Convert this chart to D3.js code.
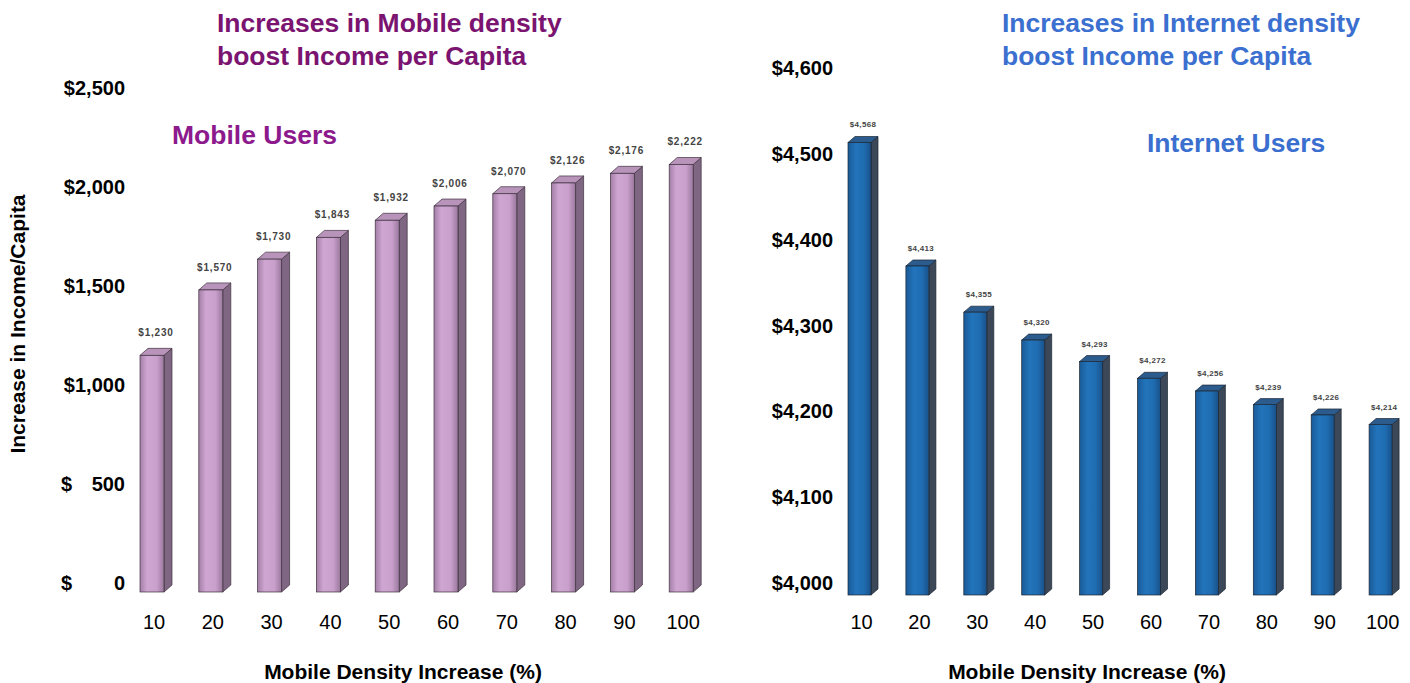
<!DOCTYPE html>
<html>
<head>
<meta charset="utf-8">
<script src="https://cdn.jsdelivr.net/npm/d3@7"></script>
<style>
body{margin:0;background:#fff;}
text{font-family:Arial,"Liberation Sans",sans-serif;}
</style>
</head>
<body>
<script>
// data
var densityCats = ["10","20","30","40","50","60","70","80","90","100"];
var mobileIncome = [1230,1570,1730,1843,1932,2006,2070,2126,2176,2222];
var internetIncome = [4568,4413,4355,4320,4293,4272,4256,4239,4226,4214];
var mobileTicks = [0,500,1000,1500,2000,2500];
var internetTicks = [4000,4100,4200,4300,4400,4500,4600];

var W = 1410, H = 683;
var svg = d3.select("body").append("svg").attr("width",W).attr("height",H);
var defs = svg.append("defs");

function grad(id, stops){
  var g = defs.append("linearGradient").attr("id",id).attr("x1","0%").attr("x2","100%").attr("y1","0%").attr("y2","0%");
  stops.forEach(function(s){ g.append("stop").attr("offset",s[0]).attr("stop-color",s[1]); });
}
grad("purpleFront",[["0%","#a47fa7"],["30%","#cfa6d2"],["70%","#c99fcc"],["100%","#9a789c"]]);
grad("blueFront",[["0%","#1a5a98"],["35%","#2274bb"],["70%","#1f6cb1"],["100%","#195189"]]);

var fmt = d3.format(",");

// one 3d bar chart; the bars were a pasted picture so they sit on their own scale
function barChart(o){
  var x = d3.scaleBand().domain(densityCats).range(o.xRange);
  var yBar = d3.scaleLinear().domain(o.domain).range(o.barRange);
  var yAxis = d3.scaleLinear().domain(o.domain).range(o.axisRange);
  var g = svg.append("g");
  var base = yBar(o.domain[0]);
  var w = o.w, dx = o.dx, dy = o.dy;

  var bars = g.selectAll("g.bar").data(o.values).enter().append("g").attr("class","bar");
  // side
  bars.append("path")
    .attr("d", function(d,i){
      var x0 = x(densityCats[i]) + o.off + w, yt = yBar(d);
      return "M"+x0+","+yt+"L"+(x0+dx)+","+(yt-dy)+"L"+(x0+dx)+","+(base-dy)+"L"+x0+","+base+"Z";
    })
    .attr("fill", o.side).attr("stroke", o.edge).attr("stroke-width",0.7);
  // cap
  bars.append("path")
    .attr("d", function(d,i){
      var x0 = x(densityCats[i]) + o.off, yt = yBar(d);
      return "M"+x0+","+yt+"L"+(x0+dx)+","+(yt-dy)+"L"+(x0+w+dx)+","+(yt-dy)+"L"+(x0+w)+","+yt+"Z";
    })
    .attr("fill", o.cap).attr("stroke", o.edge).attr("stroke-width",0.7);
  // front
  bars.append("rect")
    .attr("x", function(d,i){ return x(densityCats[i]) + o.off; })
    .attr("y", function(d){ return yBar(d); })
    .attr("width", w)
    .attr("height", function(d){ return base - yBar(d); })
    .attr("fill", "url(#"+o.front+")").attr("stroke", o.edge).attr("stroke-width",0.7);
  // value labels
  bars.append("text")
    .attr("x", function(d,i){ return x(densityCats[i]) + o.off + (w+dx)/2; })
    .attr("y", function(d){ return yBar(d) - dy - o.labelGap; })
    .attr("text-anchor","middle")
    .attr("font-size", o.labelSize).attr("font-weight","bold")
    .attr("letter-spacing", o.labelSpacing)
    .attr("fill","#444")
    .text(function(d){ return "$" + fmt(d); });

  // category labels
  g.selectAll("text.cat").data(densityCats).enter().append("text")
    .attr("class","cat")
    .attr("x", function(d){ return x(d) + o.off + w/2 + 2; })
    .attr("y", 629)
    .attr("text-anchor","middle")
    .attr("font-size",20).attr("fill","#000")
    .text(function(d){ return d; });

  // value axis labels
  var ticks = g.selectAll("g.tick").data(o.ticks).enter().append("g").attr("class","tick")
    .attr("transform", function(d){ return "translate(0,"+(yAxis(d)+7)+")"; });
  ticks.each(function(d){
    var t = d3.select(this);
    if (d < 1000){
      t.append("text").attr("x",o.dollarX).attr("font-size",20).attr("font-weight","bold").text("$");
      t.append("text").attr("x",o.tickX).attr("text-anchor","end").attr("font-size",20).attr("font-weight","bold").text(fmt(d));
    } else {
      t.append("text").attr("x",o.tickX).attr("text-anchor","end").attr("font-size",20).attr("font-weight","bold").text("$"+fmt(d));
    }
  });

  // x title
  g.append("text").attr("x",o.xTitleX).attr("y",679).attr("text-anchor","middle")
    .attr("font-size",21).attr("font-weight","bold").text("Mobile Density Increase (%)");

  // titles
  g.append("text").attr("x",o.titleX).attr("y",32).attr("font-size",26.5).attr("font-weight","bold")
    .attr("fill",o.titleColor).text(o.title1);
  g.append("text").attr("x",o.titleX).attr("y",65).attr("font-size",26.5).attr("font-weight","bold")
    .attr("fill",o.titleColor).text(o.title2);
  g.append("text").attr("x",o.seriesX).attr("y",o.seriesY).attr("font-size",26.5).attr("font-weight","bold")
    .attr("fill",o.seriesColor).text(o.series);
}

barChart({
  values: mobileIncome, ticks: mobileTicks,
  domain: [0,2500], barRange: [592,111], axisRange: [583,88],
  xRange: [126,714], off: 14, w: 24, dx: 8, dy: 7,
  front: "purpleFront", side: "#7f6682", cap: "#b894bb", edge: "#3d313e",
  labelSize: 10, labelSpacing: 0.8, labelGap: 12,
  tickX: 125, dollarX: 61, xTitleX: 403,
  titleX: 217, titleColor: "#7a1470", title1: "Increases in Mobile density", title2: "boost Income per Capita",
  series: "Mobile Users", seriesX: 172, seriesY: 144, seriesColor: "#8c1a8c"
});

barChart({
  values: internetIncome, ticks: internetTicks,
  domain: [4000,4600], barRange: [595,117], axisRange: [583,68],
  xRange: [834,1413], off: 14, w: 23, dx: 7, dy: 6,
  front: "blueFront", side: "#3c4757", cap: "#2c5b8e", edge: "#1b2633",
  labelSize: 8, labelSpacing: 0.3, labelGap: 9,
  tickX: 833, dollarX: 769, xTitleX: 1087,
  titleX: 1002, titleColor: "#3b6fd0", title1: "Increases in Internet density", title2: "boost Income per Capita",
  series: "Internet Users", seriesX: 1147, seriesY: 152, seriesColor: "#3a6fcf"
});

// y title on the left chart
svg.append("text")
  .attr("transform","translate(25,324) rotate(-90)")
  .attr("text-anchor","middle").attr("font-size",21).attr("font-weight","bold")
  .text("Increase in Income/Capita");
</script>
</body>
</html>
